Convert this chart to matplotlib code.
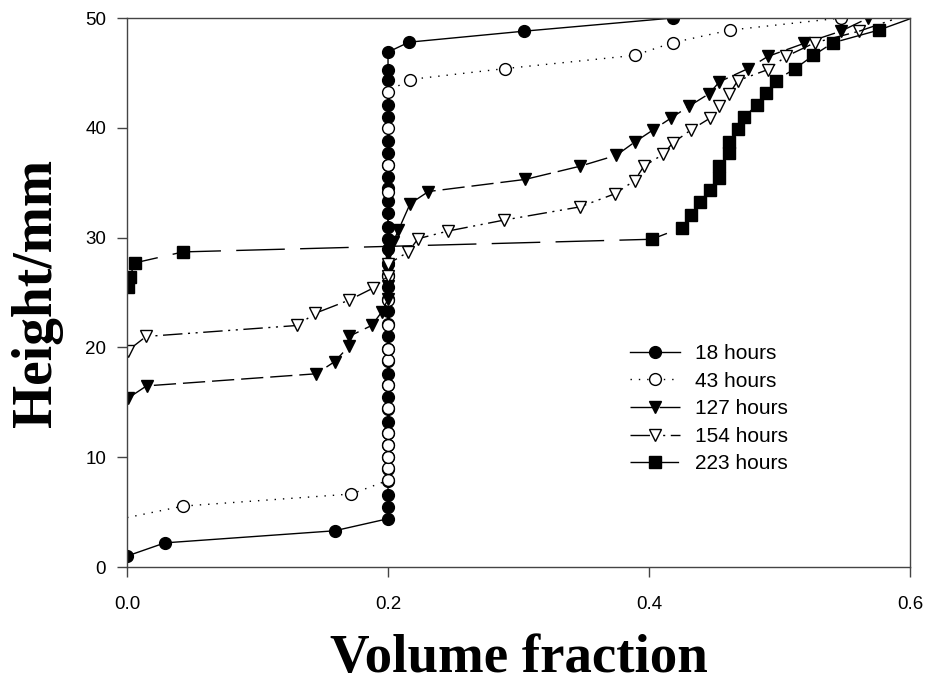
import matplotlib
matplotlib.use('Agg')
import matplotlib.pyplot as plt

# 18 hours
x18 = [0.0, 0.029, 0.159, 0.2, 0.2, 0.2, 0.2, 0.2, 0.2, 0.2, 0.2, 0.2, 0.2, 0.2, 0.2,
       0.2, 0.2, 0.2, 0.2, 0.2, 0.2, 0.2, 0.2, 0.2, 0.2, 0.2, 0.2, 0.2, 0.2, 0.2,
       0.2, 0.2, 0.2, 0.2, 0.2, 0.2, 0.2, 0.2, 0.2, 0.2, 0.216, 0.304, 0.418]
y18 = [1.0, 2.2, 3.3, 4.4, 5.5, 6.6, 7.8, 8.9, 10.0, 11.1, 12.2, 13.2, 14.4, 15.5,
       16.6, 17.6, 18.8, 19.9, 21.0, 22.1, 23.3, 24.4, 25.5, 26.6, 27.7, 29.0,
       29.9, 31.0, 32.2, 33.3, 34.5, 35.5, 36.6, 37.7, 38.8, 41.0, 42.1, 44.4,
       45.3, 46.9, 47.8, 48.8, 50.0]

# 43 hours
x43 = [0.0, 0.043, 0.172, 0.2, 0.2, 0.2, 0.2, 0.2, 0.2, 0.2, 0.2, 0.2, 0.2, 0.2,
       0.2, 0.2, 0.2, 0.2, 0.2, 0.2165, 0.29, 0.389, 0.418, 0.462, 0.547]
y43 = [4.5, 5.55, 6.65, 7.9, 9.0, 10.0, 11.1, 12.2, 14.5, 16.6, 18.9, 19.9, 22.0,
       24.3, 26.5, 34.2, 36.6, 40.0, 43.3, 44.4, 45.4, 46.6, 47.75, 48.9, 50.0]

# 127 hours
x127 = [0.001, 0.015, 0.145, 0.159, 0.17, 0.17, 0.1875, 0.195, 0.2, 0.2, 0.2,
        0.2, 0.204, 0.208, 0.217, 0.231, 0.305, 0.347, 0.375, 0.389, 0.403,
        0.417, 0.431, 0.446, 0.454, 0.476, 0.491, 0.519, 0.547, 0.568]
y127 = [15.4, 16.5, 17.6, 18.7, 20.1, 21.0, 22.0, 23.2, 24.4, 25.6, 27.0,
        28.5, 29.6, 30.7, 33.1, 34.2, 35.3, 36.5, 37.5, 38.7, 39.8,
        40.9, 42.0, 43.1, 44.2, 45.4, 46.5, 47.7, 48.8, 50.0]

# 154 hours
x154 = [0.0005, 0.0146, 0.1305, 0.144, 0.17, 0.1885, 0.2, 0.2, 0.2155, 0.223,
        0.246, 0.289, 0.347, 0.374, 0.389, 0.396, 0.411, 0.418, 0.432, 0.447,
        0.454, 0.4616, 0.468, 0.491, 0.505, 0.527, 0.561, 0.615]
y154 = [19.7, 21.0, 22.0, 23.1, 24.3, 25.4, 26.5, 27.6, 28.7, 29.9,
        30.6, 31.6, 32.8, 34.0, 35.2, 36.5, 37.6, 38.6, 39.8, 40.9,
        42.0, 43.1, 44.3, 45.3, 46.5, 47.75, 48.8, 51.0]

# 223 hours
x223 = [0.001, 0.002, 0.006, 0.043, 0.402, 0.425, 0.432, 0.439, 0.447, 0.454,
        0.4539, 0.461, 0.4616, 0.468, 0.473, 0.4825, 0.490, 0.497, 0.512,
        0.526, 0.541, 0.576, 0.625]
y223 = [25.5, 26.4, 27.7, 28.7, 29.85, 30.9, 32.1, 33.2, 34.3, 35.4,
        36.5, 37.7, 38.7, 39.9, 40.95, 42.1, 43.2, 44.3, 45.4,
        46.6, 47.75, 48.9, 51.0]

fig = plt.figure(figsize=(9.3, 6.83), dpi=100)
ax = fig.add_axes([0.1366, 0.1698, 0.8419, 0.8038])

ms = 8.5
ax.plot(x18, y18, color='black', lw=1.0, marker='o', ms=ms, mfc='black',
        mec='black', label='18 hours')
ax.plot(x43[:2], y43[:2], color='black', lw=1.0, dashes=(1, 5))
ax.plot(x43[1:], y43[1:], color='black', lw=1.0, dashes=(1, 5), marker='o',
        ms=ms, mfc='white', mec='black', mew=1.0, label='43 hours')
ax.plot(x127, y127, color='black', lw=1.0, dashes=(16, 5), marker='v', ms=ms,
        mfc='black', mec='black', label='127 hours')
ax.plot(x154[:-1], y154[:-1], color='black', lw=1.0, dashes=(14, 4, 1.5, 4, 1.5, 4),
        marker='v', ms=ms, mfc='white', mec='black', mew=1.0, label='154 hours')
ax.plot(x154[-2:], y154[-2:], color='black', lw=1.0, dashes=(14, 4, 1.5, 4, 1.5, 4))
ax.plot(x223[:-1], y223[:-1], color='black', lw=1.0, dashes=(35, 11), marker='s',
        ms=ms - 0.5, mfc='black', mec='black', label='223 hours')
ax.plot(x223[-2:], y223[-2:], color='black', lw=1.0)

ax.set_xlim(0, 0.6)
ax.set_ylim(0, 50)
ax.set_xticks([0.0, 0.2, 0.4, 0.6])
ax.set_xticklabels(['0.0', '0.2', '0.4', '0.6'])
ax.set_yticks([0, 10, 20, 30, 40, 50])
ax.tick_params(direction='out', length=7, width=1, labelsize=13.5,
               color='#444444')
ax.tick_params(axis='x', pad=14)
ax.tick_params(axis='y', pad=8)
for lab in ax.get_xticklabels() + ax.get_yticklabels():
    lab.set_family(['Liberation Sans', 'DejaVu Sans'])
for sp in ax.spines.values():
    sp.set_color('#444444')
    sp.set_linewidth(1.0)

ax.set_xlabel('Volume fraction', fontsize=39.5, fontweight='bold',
              family=['Liberation Serif', 'DejaVu Serif'])
ax.set_ylabel('Height/mm', fontsize=40, fontweight='bold',
              family=['Liberation Serif', 'DejaVu Serif'])
ax.xaxis.set_label_coords(0.5, -0.192, transform=ax.transAxes)
ax.xaxis.label.set_va('baseline')
ax.yaxis.set_label_coords(-0.115, 0.5, transform=ax.transAxes)
ax.yaxis.label.set_va('center')

leg = ax.legend(loc='upper left', bbox_to_anchor=(0.618, 0.44), frameon=False,
                handlelength=2.4, handletextpad=0.72, labelspacing=0.41,
                prop={'family': ['Liberation Sans', 'DejaVu Sans'], 'size': 15})

fig.savefig('out.png', dpi=100)
